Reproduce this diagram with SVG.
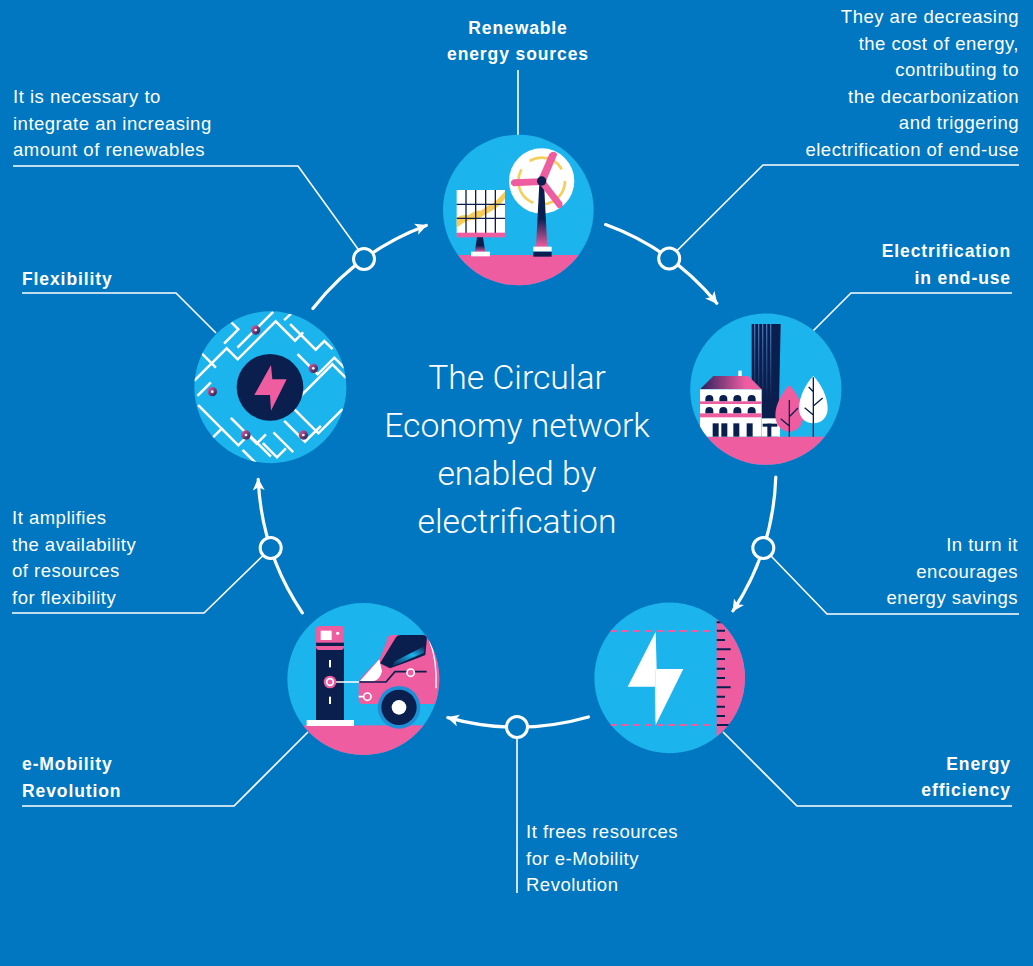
<svg xmlns="http://www.w3.org/2000/svg" width="1033" height="966" viewBox="0 0 1033 966">
  <style>
    .bg { fill: #0077C0; }
    .disc { fill: #1BB4EC; }
    .pink { fill: #EF5DA1; }
    .navy { fill: #0B1F4F; }
    .white { fill: #FFFFFF; }
    .body { font-family: "Liberation Sans", Arial, sans-serif; font-size: 18.5px; letter-spacing: 0.5px; fill: #FFFFFF; }
    .label { font-family: "Liberation Sans", Arial, sans-serif; font-size: 17.5px; font-weight: bold; letter-spacing: 0.9px; fill: #FFFFFF; }
    .title { font-family: Roboto, "Liberation Sans", sans-serif; font-size: 33.7px; font-weight: 300; fill: #FFFFFF; text-anchor: middle; }
    .end { text-anchor: end; }
    .mid { text-anchor: middle; }
    .leader { fill: none; stroke: #FFFFFF; stroke-width: 1.6; }
    .flow { fill: none; stroke: #FFFFFF; stroke-width: 3.2; stroke-linecap: round; marker-end: url(#arrow); }
    .ring { fill: #0077C0; stroke: #FFFFFF; stroke-width: 3; }
    .trace { fill: none; stroke: #FFFFFF; stroke-width: 7.5; stroke-linecap: square; }
  </style>
  <defs>
    <marker id="arrow" markerUnits="userSpaceOnUse" markerWidth="14" markerHeight="14" refX="11" refY="6" orient="auto">
      <path d="M0,0 L12,6 L0,12 L3,6 Z" fill="#FFFFFF"/>
    </marker>
    <linearGradient id="gStand" x1="0" y1="0" x2="0" y2="1">
      <stop offset="0" stop-color="#0B1F4F"/>
      <stop offset="0.55" stop-color="#0B1F4F"/>
      <stop offset="1" stop-color="#EF5DA1"/>
    </linearGradient>
    <linearGradient id="gRoof" x1="0" y1="0" x2="1" y2="0">
      <stop offset="0" stop-color="#2A1F5C"/>
      <stop offset="0.75" stop-color="#EF5DA1"/>
    </linearGradient>
    <linearGradient id="gStripe" x1="0" y1="0" x2="0" y2="1">
      <stop offset="0" stop-color="#5C95D8" stop-opacity="0.75"/>
      <stop offset="1" stop-color="#5C95D8" stop-opacity="0"/>
    </linearGradient>
    <linearGradient id="gDot" x1="0" y1="0" x2="1" y2="1">
      <stop offset="0" stop-color="#EF5DA1"/>
      <stop offset="1" stop-color="#0B1F4F"/>
    </linearGradient>
    <linearGradient id="gStreak" x1="0" y1="1" x2="1" y2="0">
      <stop offset="0" stop-color="#0B1F4F"/>
      <stop offset="0.6" stop-color="#1BB4EC"/>
      <stop offset="1" stop-color="#0B1F4F"/>
    </linearGradient>
    <clipPath id="clipTop"><circle cx="265" cy="270" r="226"/></clipPath>
    <clipPath id="clipRight"><circle cx="257.5" cy="267.5" r="227"/></clipPath>
    <clipPath id="clipEff"><circle cx="254" cy="263.5" r="226"/></clipPath>
    <clipPath id="clipMob"><circle cx="250" cy="237" r="228"/></clipPath>
    <clipPath id="clipFlex"><circle cx="256" cy="262" r="228"/></clipPath>
  </defs>

  <rect class="bg" x="0" y="0" width="1033" height="966"/>

  <!-- connectors: flow arcs, rings and label leaders -->
  <g id="connectors">
    <path class="leader" d="M518,70 V135"/>
    <path class="leader" d="M13,166 H298 L364.8,258.5"/>
    <path class="leader" d="M1019,165 H763 L669.2,258.5"/>
    <path class="leader" d="M22,293 H176 L216,333"/>
    <path class="leader" d="M1012,293 H851 L812,332"/>
    <path class="leader" d="M1019,614 H827 L763.3,548"/>
    <path class="leader" d="M12,613 H204 L270.7,548"/>
    <path class="leader" d="M517,727 V893"/>
    <path class="leader" d="M1012,806 H797 L723,732"/>
    <path class="leader" d="M22,806 H234 L308,732"/>

    <path class="flow" d="M605.6,224.6 A259,259 0 0 1 716.8,303.2"/>
    <path class="flow" d="M775.8,477 A259,259 0 0 1 733,610.9"/>
    <path class="flow" d="M588.4,717 A259,259 0 0 1 447.8,717.6"/>
    <path class="flow" d="M302.3,612.8 A259,259 0 0 1 258.2,479.3"/>
    <path class="flow" d="M312.9,308.5 A259,259 0 0 1 426.3,225.4"/>

    <circle class="ring" cx="669.2" cy="258.5" r="10.5"/>
    <circle class="ring" cx="763.3" cy="548" r="10.5"/>
    <circle class="ring" cx="517" cy="727" r="10.5"/>
    <circle class="ring" cx="270.7" cy="548" r="10.5"/>
    <circle class="ring" cx="364" cy="259" r="10.5"/>
  </g>

  <!-- Renewable energy sources -->
  <g id="renewable-energy">
    <g transform="translate(430,120) scale(0.33333)">
      <circle class="disc" cx="265" cy="270" r="226"/>
      <g clip-path="url(#clipTop)">
        <rect class="pink" x="0" y="405" width="540" height="120"/>
        <!-- solar panel -->
        <rect class="white" x="80" y="210" width="145" height="130"/>
        <path d="M80,292 Q100,282 115,286 Q135,270 152,272 Q172,256 190,250 Q206,236 225,214 L225,236 Q210,256 195,266 Q176,278 160,287 Q140,302 120,300 Q100,306 80,324 Z" fill="#F6C744" opacity="0.9"/>
        <g stroke="#0B1F4F" stroke-width="4">
          <path d="M108,210 V340 M137,210 V340 M167,210 V340 M196,210 V340 M80,253 H225 M80,295 H225"/>
        </g>
        <rect class="pink" x="80" y="338" width="145" height="14"/>
        <polygon points="141,352 159,352 166,397 134,397" fill="url(#gStand)"/>
        <rect class="white" x="123" y="395" width="57" height="14"/>
        <!-- wind turbine -->
        <circle class="white" cx="335" cy="183" r="98"/>
        <circle cx="335" cy="183" r="70" fill="none" stroke="#F3C63F" stroke-width="8" stroke-dasharray="105 30 120 35 110 40" opacity="0.85"/>
        <polygon points="328,190 342,190 352,382 318,382" fill="url(#gStand)"/>
        <path class="pink" d="M325,178 L358,102 Q370,88 382,102 L347,186 Z"/>
        <path class="pink" d="M335,175 L250,178 Q234,188 250,199 L335,195 Z"/>
        <path class="pink" d="M342,177 L397,248 Q401,268 383,263 L328,191 Z"/>
        <circle class="navy" cx="335" cy="183" r="14"/>
        <rect class="white" x="310" y="380" width="55" height="15"/>
        <rect class="navy" x="310" y="395" width="55" height="15"/>
      </g>
    </g>
  </g>

  <!-- Electrification in end-use -->
  <g id="electrification">
    <g transform="translate(680,300) scale(0.33333)">
      <circle class="disc" cx="257.5" cy="267.5" r="227"/>
      <g clip-path="url(#clipRight)">
        <rect class="pink" x="0" y="410" width="520" height="120"/>
        <!-- tower -->
        <polygon class="navy" points="215,72 302,72 295,410 215,410"/>
        <rect x="222" y="72" width="4" height="230" fill="url(#gStripe)"/>
        <rect x="234" y="72" width="4" height="230" fill="url(#gStripe)"/>
        <rect x="246" y="72" width="4" height="230" fill="url(#gStripe)"/>
        <rect x="258" y="72" width="4" height="230" fill="url(#gStripe)"/>
        <rect x="270" y="72" width="4" height="230" fill="url(#gStripe)"/>
        <rect class="white" x="245" y="355" width="55" height="55"/>
        <rect class="navy" x="248" y="371" width="44" height="9"/>
        <rect class="navy" x="262" y="371" width="12" height="39"/>
        <!-- house -->
        <rect class="white" x="175" y="212" width="10" height="35"/>
        <polygon points="60,268 100,228 205,228 245,268" fill="url(#gRoof)"/>
        <rect class="white" x="60" y="268" width="185" height="142"/>
        <rect class="pink" x="60" y="304" width="185" height="8"/>
        <rect class="pink" x="60" y="340" width="185" height="12"/>
        <g class="navy">
          <path d="M76,304 V297 A12,12 0 0 1 100,297 V304 Z M118,304 V297 A12,12 0 0 1 142,297 V304 Z M160,304 V297 A12,12 0 0 1 184,297 V304 Z M203,304 V297 A12,12 0 0 1 227,297 V304 Z"/>
          <path d="M76,340 V333 A12,12 0 0 1 100,333 V340 Z M118,340 V333 A12,12 0 0 1 142,333 V340 Z M160,340 V333 A12,12 0 0 1 184,333 V340 Z M203,340 V333 A12,12 0 0 1 227,333 V340 Z"/>
          <rect x="98" y="370" width="18" height="40"/>
          <rect x="124" y="370" width="18" height="40"/>
          <rect x="160" y="370" width="18" height="40"/>
          <rect x="200" y="370" width="18" height="40"/>
        </g>
        <!-- trees -->
        <path class="pink" d="M328,255 C348,275 370,312 370,345 C370,375 352,395 328,395 C304,395 286,375 286,345 C286,312 308,275 328,255 Z"/>
        <path d="M328,300 V410 M328,350 L354,324 M328,378 L302,356" fill="none" stroke="#0B1F4F" stroke-width="4"/>
        <path class="white" d="M400,228 C422,250 443,290 443,325 C443,352 425,370 400,370 C375,370 357,352 357,325 C357,290 378,250 400,228 Z"/>
        <path d="M400,232 V410 M400,275 L386,261 M400,318 L428,294 M400,345 L374,323" fill="none" stroke="#0B1F4F" stroke-width="4"/>
      </g>
    </g>
  </g>

  <!-- Energy efficiency -->
  <g id="energy-efficiency">
    <g transform="translate(585,590) scale(0.33333)">
      <circle class="disc" cx="254" cy="263.5" r="226"/>
      <g clip-path="url(#clipEff)">
        <rect class="pink" x="395" y="0" width="130" height="520"/>
        <g stroke="#0B1F4F" stroke-width="6">
          <path d="M395,97 H420 M395,122 H420 M395,150 H420 M395,178 H437 M395,207 H420 M395,236 H420 M395,264 H420 M395,292 H437 M395,320 H420 M395,350 H420 M395,378 H420 M395,405 H437"/>
        </g>
        <path d="M75,123 H395 M75,405 H395" fill="none" stroke="#EF5DA1" stroke-width="6" stroke-dasharray="20 15"/>
        <polygon class="white" points="212,125 128,290 210,290 212,405 295,237 215,237"/>
        <path d="M211,240 V395" stroke="#BFE8FA" stroke-width="2"/>
      </g>
    </g>
  </g>

  <!-- e-Mobility Revolution -->
  <g id="e-mobility">
    <g transform="translate(280,600) scale(0.33333)">
      <circle class="disc" cx="250" cy="237" r="228"/>
      <g clip-path="url(#clipMob)">
        <rect class="pink" x="0" y="376" width="500" height="120"/>
        <!-- charging post -->
        <rect class="navy" x="108" y="140" width="84" height="222"/>
        <rect class="pink" x="108" y="78" width="84" height="72" rx="10"/>
        <rect class="navy" x="108" y="128" width="84" height="10"/>
        <rect class="white" x="122" y="92" width="33" height="28"/>
        <circle class="white" cx="173" cy="100" r="5"/>
        <rect class="white" x="147" y="180" width="6" height="22"/>
        <rect class="white" x="147" y="290" width="6" height="22"/>
        <rect class="white" x="80" y="360" width="142" height="18"/>
        <path d="M165,246 H245" stroke="#FFFFFF" stroke-width="5"/>
        <circle class="pink" cx="150" cy="246" r="19"/>
        <circle cx="150" cy="246" r="10" fill="#EF5DA1" stroke="#FFFFFF" stroke-width="5"/>
        <!-- car -->
        <path class="pink" d="M236,250 L236,300 Q236,312 250,312 L296,312 A62,62 0 0 1 418,312 L480,312 L480,105 L335,105 Q318,108 320,125 L300,175 Q270,205 245,232 Z"/>
        <path class="white" d="M240,243 L298,178 L306,214 Q300,240 280,244 Z"/>
        <path class="navy" d="M300,190 L348,112 Q352,105 362,105 L430,105 Q444,106 440,122 L436,165 Q400,180 330,205 Z"/>
        <path d="M335,200 L432,158 L434,138 L345,184 Z" fill="url(#gStreak)"/>
        <path d="M238,246 H318 L345,215 H440" fill="none" stroke="#0B1F4F" stroke-width="5"/>
        <path d="M448,120 Q472,180 468,265" fill="none" stroke="#FFFFFF" stroke-width="4"/>
        <circle cx="357" cy="322" r="64" fill="#1E8FD6"/>
        <circle class="navy" cx="357" cy="322" r="53"/>
        <circle class="white" cx="357" cy="322" r="22"/>
        <path d="M236,290 H250" stroke="#FFFFFF" stroke-width="5"/>
        <circle cx="262" cy="290" r="11" fill="#EF5DA1" stroke="#FFFFFF" stroke-width="5"/>
        <circle cx="392" cy="218" r="11" fill="#EF5DA1" stroke="#FFFFFF" stroke-width="5"/>
      </g>
    </g>
  </g>

  <!-- Flexibility -->
  <g id="flexibility">
    <g transform="translate(185,300) scale(0.33333)">
      <circle class="disc" cx="256" cy="262" r="228"/>
      <g clip-path="url(#clipFlex)">
        <path class="trace" d="M30,240 L125,145 L158,178 L272,64 L330,122 L352,100"/>
        <path class="trace" d="M120,128 L160,88 L142,70"/>
        <path class="trace" d="M160,140 L262,38"/>
        <path class="trace" d="M50,160 L90,200"/>
        <path class="trace" d="M300,58 L330,30"/>
        <path class="trace" d="M318,75 L392,149 L418,123 L440,145"/>
        <path class="trace" d="M340,165 L398,223 L448,173 L475,200"/>
        <path class="trace" d="M345,290 L442,193 L480,231"/>
        <path class="trace" d="M330,330 L400,400 L470,330"/>
        <path class="trace" d="M300,365 L360,425 L405,380"/>
        <path class="trace" d="M268,400 L322,454"/>
        <path class="trace" d="M236,432 L276,472 L300,448"/>
        <path class="trace" d="M42,318 L110,386 L78,418"/>
        <path class="trace" d="M110,386 L160,436 L192,404 L255,467"/>
        <path class="trace" d="M140,356 L215,431 L240,406"/>
        <path class="trace" d="M175,452 L210,487"/>
        <path class="trace" d="M40,285 L75,250"/>
      </g>
      <circle class="navy" cx="255" cy="262" r="100"/>
      <polygon class="pink" points="258,195 208,285 255,285 258,332 305,238 262,238"/>
      <g>
        <circle cx="212" cy="90" r="14" fill="url(#gDot)"/>
        <circle cx="385" cy="205" r="14" fill="url(#gDot)"/>
        <circle cx="82" cy="275" r="14" fill="url(#gDot)"/>
        <circle cx="183" cy="405" r="14" fill="url(#gDot)"/>
        <circle cx="355" cy="405" r="14" fill="url(#gDot)"/>
        <circle class="white" cx="212" cy="90" r="4"/>
        <circle class="white" cx="385" cy="205" r="4"/>
        <circle class="white" cx="82" cy="275" r="4"/>
        <circle class="white" cx="183" cy="405" r="4"/>
        <circle class="white" cx="355" cy="405" r="4"/>
      </g>
    </g>
  </g>

  <!-- node labels -->
  <g id="labels">
    <text class="label mid" x="518" y="34">Renewable</text>
    <text class="label mid" x="518" y="60">energy sources</text>
    <text class="label end" x="1011" y="257">Electrification</text>
    <text class="label end" x="1011" y="284">in end-use</text>
    <text class="label end" x="1011" y="770">Energy</text>
    <text class="label end" x="1011" y="796">efficiency</text>
    <text class="label" x="22" y="770">e-Mobility</text>
    <text class="label" x="22" y="797">Revolution</text>
    <text class="label" x="22" y="285">Flexibility</text>
  </g>

  <!-- connector notes -->
  <g id="notes">
    <text class="body" x="13" y="103">It is necessary to</text>
    <text class="body" x="13" y="129.5">integrate an increasing</text>
    <text class="body" x="13" y="156">amount of renewables</text>

    <text class="body end" x="1019" y="23">They are decreasing</text>
    <text class="body end" x="1019" y="49.5">the cost of energy,</text>
    <text class="body end" x="1019" y="76">contributing to</text>
    <text class="body end" x="1019" y="102.5">the decarbonization</text>
    <text class="body end" x="1019" y="129">and triggering</text>
    <text class="body end" x="1019" y="155.5">electrification of end-use</text>

    <text class="body end" x="1018" y="551">In turn it</text>
    <text class="body end" x="1018" y="577.5">encourages</text>
    <text class="body end" x="1018" y="604">energy savings</text>

    <text class="body" x="12" y="524">It amplifies</text>
    <text class="body" x="12" y="550.5">the availability</text>
    <text class="body" x="12" y="577">of resources</text>
    <text class="body" x="12" y="603.5">for flexibility</text>

    <text class="body" x="526" y="838">It frees resources</text>
    <text class="body" x="526" y="864.5">for e-Mobility</text>
    <text class="body" x="526" y="891">Revolution</text>
  </g>

  <!-- central title -->
  <g id="title">
    <text class="title" x="517" y="389">The Circular</text>
    <text class="title" x="517" y="437">Economy network</text>
    <text class="title" x="517" y="485">enabled by</text>
    <text class="title" x="517" y="533">electrification</text>
  </g>
</svg>
